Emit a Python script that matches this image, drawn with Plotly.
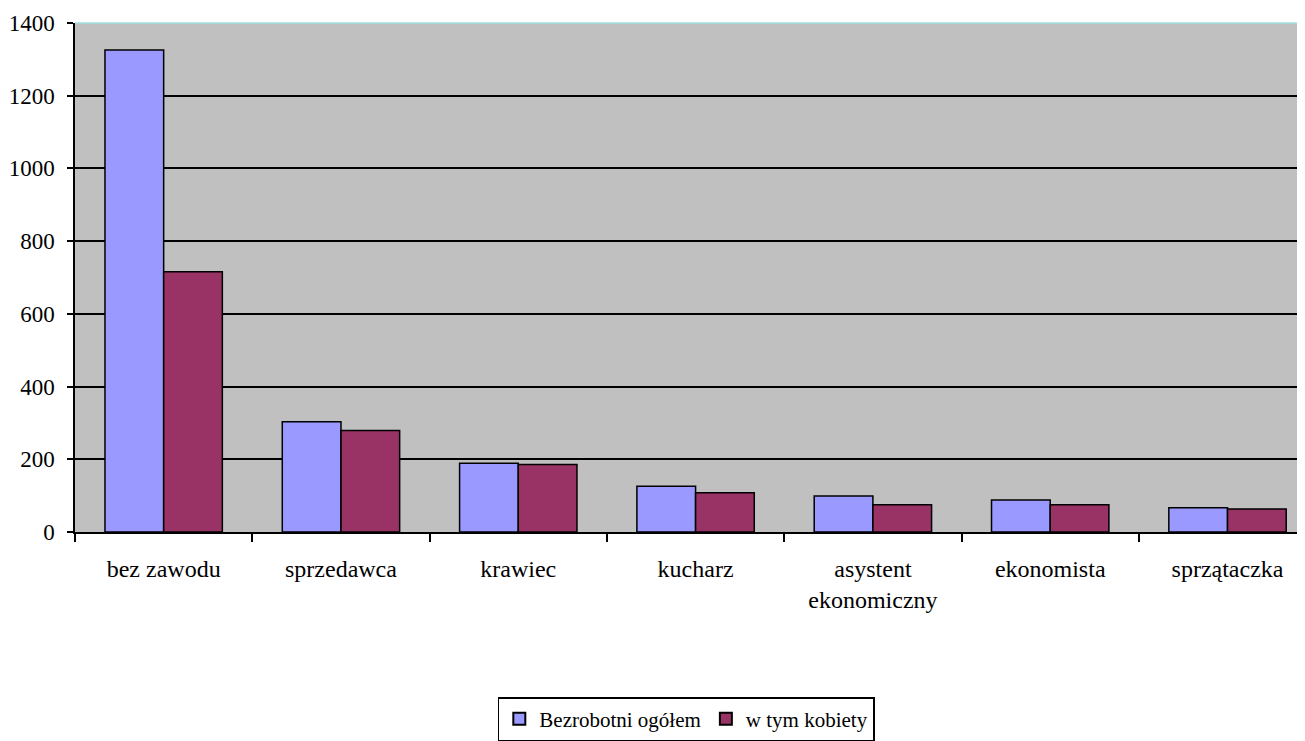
import plotly.graph_objects as go

categories = ["bez zawodu", "sprzedawca", "krawiec", "kucharz",
              "asystent<br>ekonomiczny", "ekonomista", "sprzątaczka"]
ogolem = [1326, 303, 189, 126, 99, 88, 67]
kobiety = [716, 279, 186, 108, 75, 75, 63]
y_ticks = [0, 200, 400, 600, 800, 1000, 1200, 1400]

SERIF = "Liberation Serif, Times New Roman, serif"

fig = go.Figure()
fig.add_trace(go.Bar(x=categories, y=ogolem, name="Bezrobotni ogółem",
                     marker=dict(color="#9999FF", line=dict(color="black", width=1.5))))
fig.add_trace(go.Bar(x=categories, y=kobiety, name="w tym kobiety",
                     marker=dict(color="#993366", line=dict(color="black", width=1.5))))

fig.update_layout(
    width=1297, height=733,
    margin=dict(l=67, r=0, t=15, b=201, pad=0),
    paper_bgcolor="white", plot_bgcolor="#C0C0C0",
    barmode="group", bargap=0.338, bargroupgap=0,
    font=dict(family=SERIF, size=23, color="black"),
    showlegend=True,
    legend=dict(orientation="h", x=0.497, xanchor="center", y=-0.325, yanchor="top",
                bgcolor="white", bordercolor="black", borderwidth=1.5,
                font=dict(family=SERIF, size=21, color="black"),
                itemsizing="constant", tracegroupgap=0, itemwidth=30),
    xaxis=dict(type="category", range=[-0.5, 6.437], showline=True, linecolor="black",
               linewidth=1.5, ticks="outside", tickson="boundaries", ticklen=8,
               tickcolor="black", tickwidth=1.5, showgrid=False, ticklabelstandoff=14,
               tickfont=dict(family=SERIF, size=24)),
    yaxis=dict(range=[0, 1400], tickvals=y_ticks, showline=True, linecolor="black",
               linewidth=1.5, ticks="outside", ticklen=6, tickcolor="black", tickwidth=1.5,
               showgrid=True, gridcolor="black", gridwidth=1.5, zeroline=False,
               ticklabelstandoff=8, tickfont=dict(family=SERIF, size=23)),
)
fig.add_shape(type="line", xref="paper", yref="paper", x0=0, x1=1, y0=1, y1=1,
              line=dict(color="#A0E0E0", width=1.5))

fig.write_html("out.html")
